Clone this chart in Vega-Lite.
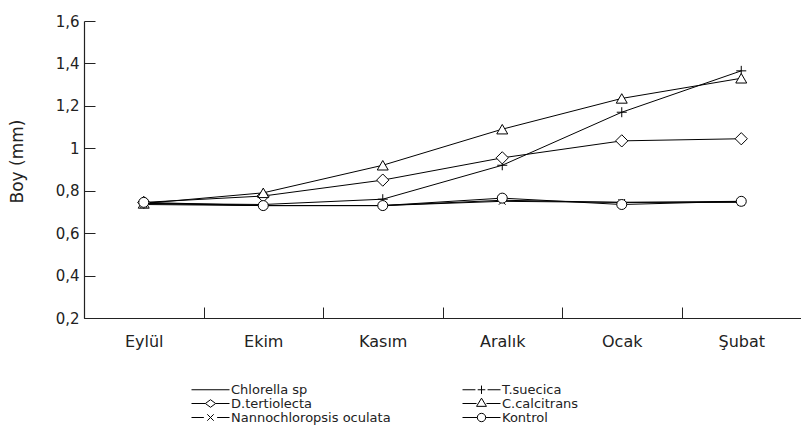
{
  "$schema": "https://vega.github.io/schema/vega-lite/v6.json",
  "autosize": {"type": "none"},
  "padding": {"left": 84, "top": 21, "right": 0, "bottom": 111},
  "width": 717,
  "height": 297,
  "background": "white",
  "config": {
    "view": {"stroke": null},
    "font": "DejaVu Sans",
    "axis": {"domainColor": "#222", "tickColor": "#222", "labelColor": "#222", "titleColor": "#222", "grid": false, "labelFont": "DejaVu Sans", "titleFont": "DejaVu Sans"},
    "legend": {"labelFont": "DejaVu Sans"}
  },
  "data": {
    "values": [
      {"series": "Chlorella sp", "month": "Eylül", "value": 0.74},
      {"series": "Chlorella sp", "month": "Ekim", "value": 0.73},
      {"series": "Chlorella sp", "month": "Kasım", "value": 0.73},
      {"series": "Chlorella sp", "month": "Aralık", "value": 0.755},
      {"series": "Chlorella sp", "month": "Ocak", "value": 0.745},
      {"series": "Chlorella sp", "month": "Şubat", "value": 0.75},
      {"series": "T.suecica", "month": "Eylül", "value": 0.74},
      {"series": "T.suecica", "month": "Ekim", "value": 0.735},
      {"series": "T.suecica", "month": "Kasım", "value": 0.76},
      {"series": "T.suecica", "month": "Aralık", "value": 0.92},
      {"series": "T.suecica", "month": "Ocak", "value": 1.17},
      {"series": "T.suecica", "month": "Şubat", "value": 1.365},
      {"series": "D.tertiolecta", "month": "Eylül", "value": 0.745},
      {"series": "D.tertiolecta", "month": "Ekim", "value": 0.775},
      {"series": "D.tertiolecta", "month": "Kasım", "value": 0.85},
      {"series": "D.tertiolecta", "month": "Aralık", "value": 0.955},
      {"series": "D.tertiolecta", "month": "Ocak", "value": 1.035},
      {"series": "D.tertiolecta", "month": "Şubat", "value": 1.045},
      {"series": "C.calcitrans", "month": "Eylül", "value": 0.74},
      {"series": "C.calcitrans", "month": "Ekim", "value": 0.79},
      {"series": "C.calcitrans", "month": "Kasım", "value": 0.92},
      {"series": "C.calcitrans", "month": "Aralık", "value": 1.09},
      {"series": "C.calcitrans", "month": "Ocak", "value": 1.235},
      {"series": "C.calcitrans", "month": "Şubat", "value": 1.33},
      {"series": "Nannochloropsis oculata", "month": "Eylül", "value": 0.735},
      {"series": "Nannochloropsis oculata", "month": "Ekim", "value": 0.73},
      {"series": "Nannochloropsis oculata", "month": "Kasım", "value": 0.73},
      {"series": "Nannochloropsis oculata", "month": "Aralık", "value": 0.75},
      {"series": "Nannochloropsis oculata", "month": "Ocak", "value": 0.745},
      {"series": "Nannochloropsis oculata", "month": "Şubat", "value": 0.745},
      {"series": "Kontrol", "month": "Eylül", "value": 0.745},
      {"series": "Kontrol", "month": "Ekim", "value": 0.73},
      {"series": "Kontrol", "month": "Kasım", "value": 0.73},
      {"series": "Kontrol", "month": "Aralık", "value": 0.765},
      {"series": "Kontrol", "month": "Ocak", "value": 0.735},
      {"series": "Kontrol", "month": "Şubat", "value": 0.75}
    ]
  },
  "encoding": {
    "x": {
      "field": "month", "type": "nominal",
      "sort": ["Eylül", "Ekim", "Kasım", "Aralık", "Ocak", "Şubat"],
      "scale": {"type": "band", "paddingInner": 0, "paddingOuter": 0},
      "axis": {"title": null, "labelAngle": 0, "tickBand": "extent", "tickSize": -11, "labelPadding": 26, "labelFontSize": 16, "domainWidth": 1.2, "tickWidth": 1}
    },
    "y": {
      "field": "value", "type": "quantitative",
      "scale": {"domain": [0.2, 1.6], "nice": false, "zero": false},
      "axis": {"title": "Boy (mm)", "titleFontSize": 17, "titleFontWeight": "normal", "titleX": -67, "titleY": 140, "titleAngle": -90, "titleBaseline": "middle", "titleAlign": "center",
        "values": [0.2, 0.4, 0.6, 0.8, 1.0, 1.2, 1.4, 1.6], "tickSize": -11, "labelPadding": 16, "labelFontSize": 15, "domainWidth": 1.2, "tickWidth": 1,
        "labelExpr": "replace(format(datum.value, '.1~f'), '.', ',')"}
    }
  },
  "layer": [
    {
      "mark": {"type": "line", "stroke": "black", "strokeWidth": 1},
      "encoding": {"detail": {"field": "series"}}
    },
    {
      "transform": [{"filter": "datum.series === 'T.suecica'"}],
      "mark": {"type": "point", "shape": "M-1,0H1M0,-1V1", "size": 100, "filled": false, "stroke": "black", "strokeWidth": 1, "opacity": 1},
      "encoding": {}
    },
    {
      "transform": [{"filter": "datum.series === 'D.tertiolecta'"}],
      "mark": {"type": "point", "shape": "diamond", "size": 150, "filled": true, "fill": "white", "stroke": "black", "strokeWidth": 1, "opacity": 1},
      "encoding": {}
    },
    {
      "transform": [{"filter": "datum.series === 'C.calcitrans'"}],
      "mark": {"type": "point", "shape": "triangle-up", "size": 120, "filled": true, "fill": "white", "stroke": "black", "strokeWidth": 1, "opacity": 1},
      "encoding": {}
    },
    {
      "transform": [{"filter": "datum.series === 'Nannochloropsis oculata'"}],
      "mark": {"type": "point", "shape": "M-0.75,-0.75L0.75,0.75M-0.75,0.75L0.75,-0.75", "size": 80, "filled": false, "stroke": "black", "strokeWidth": 1, "opacity": 1},
      "encoding": {}
    },
    {
      "transform": [{"filter": "datum.series === 'Kontrol'"}],
      "mark": {"type": "point", "shape": "circle", "size": 100, "filled": true, "fill": "white", "stroke": "black", "strokeWidth": 1, "opacity": 1},
      "encoding": {}
    },
    {
      "transform": [{"filter": "false"}],
      "mark": {"type": "point", "filled": false, "stroke": "black", "strokeWidth": 1, "opacity": 1},
      "encoding": {
        "shape": {
          "field": "series",
          "scale": {
            "domain": ["Chlorella sp", "T.suecica", "D.tertiolecta", "C.calcitrans", "Nannochloropsis oculata", "Kontrol"],
            "range": [
              "M-1,0H1",
              "M-1,0H-0.32M-0.2,0H0.2M0,-0.22V0.22M0.32,0H1",
              "M-1,0H-0.27M0.27,0H1M-0.27,0L0,-0.2L0.27,0L0,0.2Z",
              "M-1,0H-0.26M0.26,0H1M-0.26,0.15L0,-0.28L0.26,0.15Z",
              "M-1,0H-0.35M0.35,0H1M-0.17,-0.17L0.17,0.17M-0.17,0.17L0.17,-0.17",
              "M-1,0H-0.22M0.22,0H1M-0.22,0A0.22,0.22,0,1,0,0.22,0A0.22,0.22,0,1,0,-0.22,0Z"
            ]
          },
          "legend": {
            "title": null, "orient": "none", "legendX": 107, "legendY": 362,
            "columns": 2, "direction": "horizontal", "columnPadding": 71, "rowPadding": 0,
            "clipHeight": 13, "symbolSize": 1444, "symbolStrokeWidth": 1, "symbolStrokeColor": "black", "symbolOpacity": 1,
            "labelFontSize": 13, "labelColor": "#222", "labelOffset": 1, "padding": 0
          }
        }
      }
    }
  ]
}
